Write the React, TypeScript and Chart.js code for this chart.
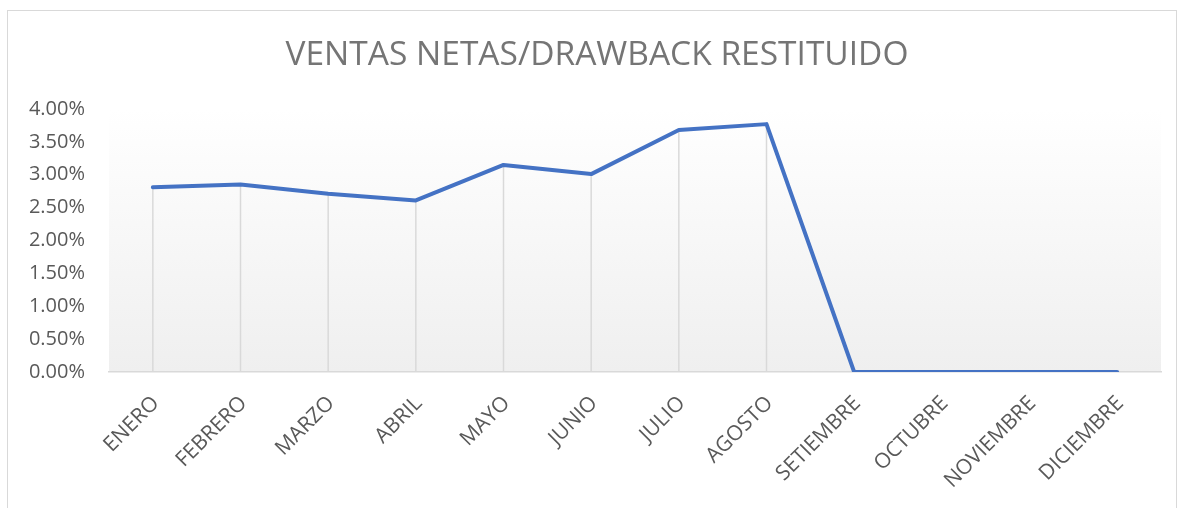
import React, { useEffect, useRef } from "react";
import { Chart, registerables } from "chart.js";

Chart.register(...registerables);

const categories = [
  "ENERO", "FEBRERO", "MARZO", "ABRIL", "MAYO", "JUNIO",
  "JULIO", "AGOSTO", "SETIEMBRE", "OCTUBRE", "NOVIEMBRE", "DICIEMBRE",
];
const ratioValues = [
  0.0281, 0.0285, 0.0271, 0.0261, 0.0315, 0.0301,
  0.0368, 0.0377, 0, 0, 0, 0,
];
const titleText = "VENTAS NETAS/DRAWBACK RESTITUIDO";

const FONT = "'Open Sans', 'Noto Sans', sans-serif";

const bgPlugin = {
  id: "plotBg",
  beforeDraw(chart: any) {
    const { ctx, chartArea: a } = chart;
    ctx.save();
    ctx.fillStyle = "#ffffff";
    ctx.fillRect(0, 0, chart.width, chart.height);
    const g = ctx.createLinearGradient(0, a.top, 0, a.bottom);
    g.addColorStop(0, "#ffffff");
    g.addColorStop(1, "#efefef");
    ctx.fillStyle = g;
    ctx.fillRect(a.left, a.top, a.right - a.left, a.bottom - a.top);
    ctx.restore();
  },
};

const titlePlugin = {
  id: "centredTitle",
  afterDraw(chart: any) {
    const { ctx } = chart;
    ctx.save();
    ctx.fillStyle = "#757575";
    ctx.font = `normal 33.5px ${FONT}`;
    ctx.textAlign = "center";
    ctx.textBaseline = "alphabetic";
    ctx.fillText(titleText, 597, 65);
    ctx.restore();
  },
};

// Category labels drawn at 45 degrees, anchored at each category's pixel on the x scale
const xLabelPlugin = {
  id: "xLabels45",
  afterDraw(chart: any) {
    const { ctx, chartArea: a } = chart;
    const xs = chart.scales.x;
    ctx.save();
    ctx.fillStyle = "#595959";
    ctx.font = `normal 21px ${FONT}`;
    ctx.textAlign = "right";
    ctx.textBaseline = "middle";
    categories.forEach((c, i) => {
      const x = xs.getPixelForValue(i);
      ctx.save();
      ctx.translate(x + 3, a.bottom + 28);
      ctx.rotate(-Math.PI / 4);
      ctx.fillText(c, 0, 0);
      ctx.restore();
    });
    ctx.restore();
  },
};

const dropLinePlugin = {
  id: "dropLines",
  beforeDatasetsDraw(chart: any) {
    const { ctx, chartArea: a } = chart;
    const meta = chart.getDatasetMeta(0);
    ctx.save();
    ctx.strokeStyle = "#d9d9d9";
    ctx.lineWidth = 1.5;
    meta.data.forEach((pt: any) => {
      ctx.beginPath();
      ctx.moveTo(pt.x, pt.y);
      ctx.lineTo(pt.x, a.bottom);
      ctx.stroke();
    });
    ctx.restore();
  },
};

export default function App() {
  const ref = useRef<HTMLCanvasElement>(null);
  useEffect(() => {
    if (!ref.current) return;
    const chart = new Chart(ref.current, {
      type: "line",
      data: {
        labels: categories,
        datasets: [
          {
            label: "Ventas netas / Drawback",
            data: ratioValues,
            borderColor: "#4472c4",
            borderWidth: 4,
            pointRadius: 0,
            tension: 0,
            fill: false,
            borderCapStyle: "round",
            borderJoinStyle: "round",
          },
        ],
      },
      options: {
        responsive: false,
        animation: false,
        layout: { padding: { top: 109, right: 17, bottom: 0, left: 0 } },
        plugins: {
          legend: { display: false },
          tooltip: { enabled: false },
          title: { display: false },
        },
        scales: {
          x: {
            offset: true,
            grid: { display: false, drawTicks: false },
            border: { display: true, color: "#d9d9d9", width: 1.5 },
            ticks: { display: false },
            afterFit(scale: any) {
              scale.height = 136;
            },
          },
          y: {
            min: 0,
            max: 0.04,
            grid: { display: false, drawTicks: false },
            border: { display: false },
            ticks: {
              stepSize: 0.005,
              color: "#595959",
              font: { family: FONT, size: 20 },
              padding: 24,
              callback: (v: any) => (Number(v) * 100).toFixed(2) + "%",
            },
            afterFit(scale: any) {
              scale.width = 109;
            },
          },
        },
      },
      plugins: [bgPlugin, dropLinePlugin, titlePlugin, xLabelPlugin],
    });
    return () => chart.destroy();
  }, []);

  return (
    <div style={{ position: "fixed", left: 0, top: 0, width: 1178, height: 508, overflow: "hidden", background: "#fff" }}>
      <canvas ref={ref} width={1178} height={508} style={{ position: "absolute", left: 0, top: 0, width: 1178, height: 508 }} />
      <div
        style={{
          position: "absolute",
          left: 7,
          top: 10,
          width: 1168,
          height: 520,
          border: "1px solid #d9d9d9",
          pointerEvents: "none",
        }}
      />
    </div>
  );
}
